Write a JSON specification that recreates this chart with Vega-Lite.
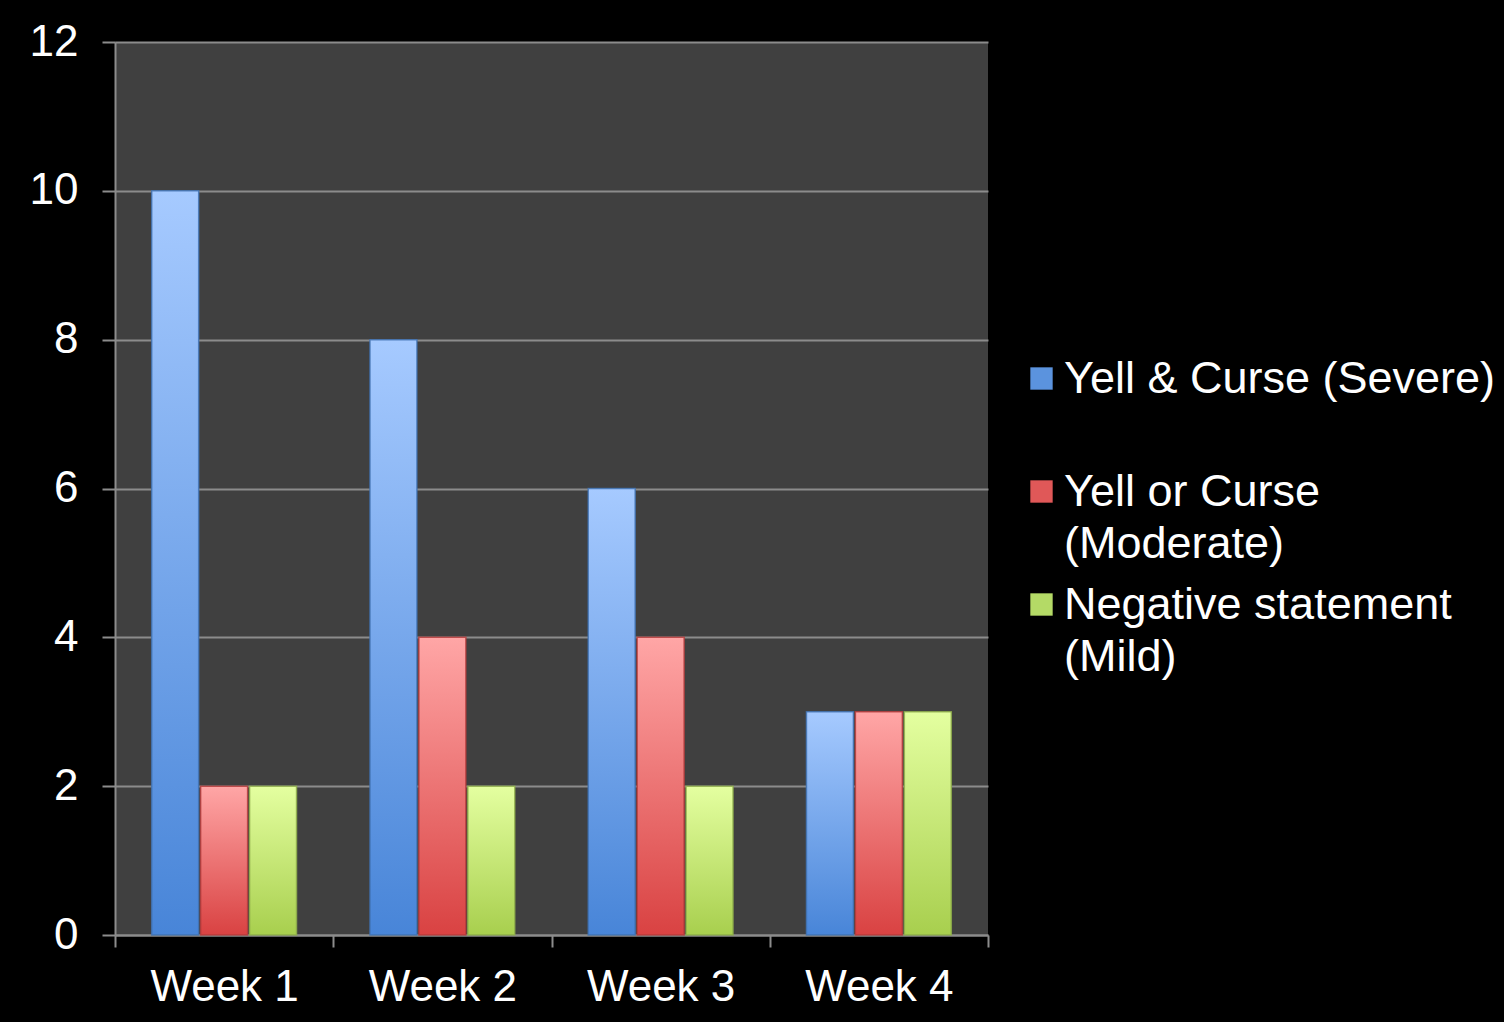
{
  "$schema": "https://vega.github.io/schema/vega-lite/v6.json",
  "autosize": {"type": "none"},
  "padding": {"left": 115, "top": 42, "right": 516, "bottom": 87},
  "width": 873,
  "height": 893,
  "background": "#000000",
  "data": {
    "values": [
      {"week": "Week 1", "series": "Yell & Curse (Severe)", "count": 10},
      {"week": "Week 1", "series": "Yell or Curse|(Moderate)", "count": 2},
      {"week": "Week 1", "series": "Negative statement|(Mild)", "count": 2},
      {"week": "Week 2", "series": "Yell & Curse (Severe)", "count": 8},
      {"week": "Week 2", "series": "Yell or Curse|(Moderate)", "count": 4},
      {"week": "Week 2", "series": "Negative statement|(Mild)", "count": 2},
      {"week": "Week 3", "series": "Yell & Curse (Severe)", "count": 6},
      {"week": "Week 3", "series": "Yell or Curse|(Moderate)", "count": 4},
      {"week": "Week 3", "series": "Negative statement|(Mild)", "count": 2},
      {"week": "Week 4", "series": "Yell & Curse (Severe)", "count": 3},
      {"week": "Week 4", "series": "Yell or Curse|(Moderate)", "count": 3},
      {"week": "Week 4", "series": "Negative statement|(Mild)", "count": 3}
    ]
  },
  "encoding": {
    "x": {
      "field": "week",
      "type": "nominal",
      "title": null,
      "scale": {"paddingInner": 0, "paddingOuter": 0},
      "axis": {
        "labelAngle": 0,
        "labelFontSize": 44,
        "labelColor": "#ffffff",
        "labelFont": "Liberation Sans",
        "labelPadding": 18,
        "tickBand": "extent",
        "tickSize": 12,
        "tickWidth": 2,
        "tickColor": "#8c8c8c",
        "domainColor": "#8c8c8c",
        "domainWidth": 2
      }
    },
    "xOffset": {
      "field": "series",
      "type": "nominal",
      "sort": ["Yell & Curse (Severe)", "Yell or Curse|(Moderate)", "Negative statement|(Mild)"],
      "scale": {"paddingInner": 0.04, "paddingOuter": 0.75}
    },
    "y": {
      "field": "count",
      "type": "quantitative",
      "title": null,
      "scale": {"domain": [0, 12], "nice": false},
      "axis": {
        "values": [0, 2, 4, 6, 8, 10, 12],
        "labelFontSize": 44,
        "labelColor": "#ffffff",
        "labelFont": "Liberation Sans",
        "labelPadding": 24,
        "tickSize": 13,
        "tickWidth": 2,
        "tickColor": "#8c8c8c",
        "domainColor": "#8c8c8c",
        "domainWidth": 2,
        "grid": true,
        "gridColor": "#8c8c8c",
        "gridWidth": 2
      }
    }
  },
  "layer": [
    {
      "mark": {"type": "bar"},
      "encoding": {
        "color": {
          "field": "series",
          "type": "nominal",
          "sort": ["Yell & Curse (Severe)", "Yell or Curse|(Moderate)", "Negative statement|(Mild)"],
          "scale": {"range": ["#5b93de", "#e05858", "#b4da66"]},
          "legend": {
            "orient": "none",
            "legendX": 904,
            "legendY": 314,
            "title": null,
            "symbolType": "square",
            "symbolSize": 500,
            "symbolStrokeWidth": 0,
            "labelFontSize": 45,
            "labelFont": "Liberation Sans",
            "labelColor": "#ffffff",
            "labelLimit": 0,
            "labelOffset": 0,
            "labelExpr": "datum.label === 'Yell & Curse (Severe)' ? [datum.label, ' '] : split(datum.label, '|')",
            "rowPadding": 15
          }
        }
      }
    },
    {
      "mark": {"type": "bar", "strokeWidth": 1.5, "strokeOpacity": 0.8},
      "encoding": {
        "fill": {
          "condition": [
            {
              "test": "datum.series === 'Yell & Curse (Severe)'",
              "value": {"gradient": "linear", "x1": 0, "y1": 0, "x2": 0, "y2": 1,
                "stops": [{"offset": 0, "color": "#a6caff"}, {"offset": 1, "color": "#4885d8"}]}
            },
            {
              "test": "datum.series === 'Yell or Curse|(Moderate)'",
              "value": {"gradient": "linear", "x1": 0, "y1": 0, "x2": 0, "y2": 1,
                "stops": [{"offset": 0, "color": "#ffa6a6"}, {"offset": 1, "color": "#d94242"}]}
            }
          ],
          "value": {"gradient": "linear", "x1": 0, "y1": 0, "x2": 0, "y2": 1,
            "stops": [{"offset": 0, "color": "#e4ffa0"}, {"offset": 1, "color": "#a8cf4e"}]}
        },
        "stroke": {
          "condition": [
            {"test": "datum.series === 'Yell & Curse (Severe)'", "value": "#3f6fae"},
            {"test": "datum.series === 'Yell or Curse|(Moderate)'", "value": "#b03a3a"}
          ],
          "value": "#8aa848"
        }
      }
    }
  ],
  "config": {
    "view": {"fill": "#404040", "stroke": null},
    "font": "Liberation Sans",
    "style": {"guide-label": {"lineHeight": 52}}
  }
}
